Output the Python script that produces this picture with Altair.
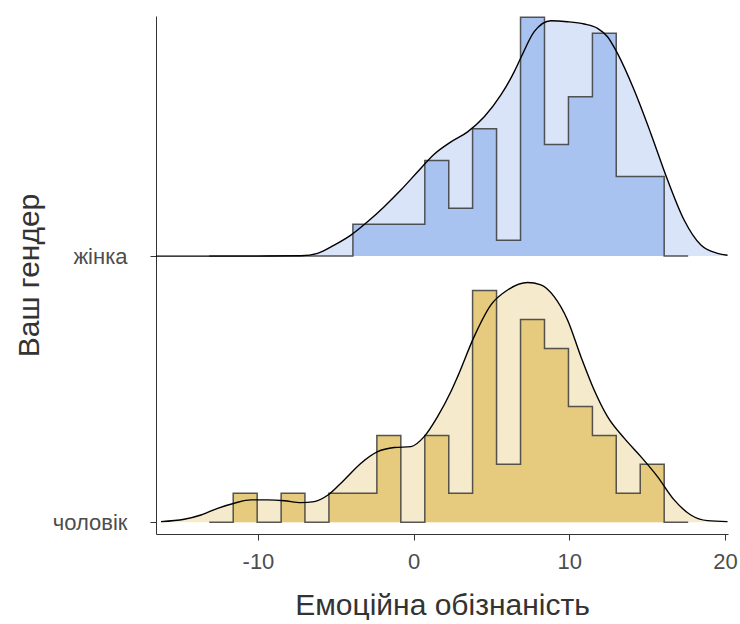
import altair as alt
import pandas as pd

# ---------------- data ----------------
groups = ["жінка", "чоловік"]
baselines = {"жінка": 0.1358, "чоловік": 0.0}

bin_edges = [-13.13, -11.59, -10.05, -8.51, -6.98, -5.44, -3.90, -2.36, -0.82, 0.72,
             2.26, 3.79, 5.33, 6.87, 8.41, 9.95, 11.49, 13.02, 14.56, 16.10, 17.64]
bin_width = 1.5385

counts_f = [0, 0, 0, 0, 0, 0, 2, 2, 2, 6, 3, 8, 1, 15, 7, 10, 14, 5, 5, 0]
counts_m = [0, 1, 0, 1, 0, 1, 1, 3, 0, 3, 1, 8, 2, 7, 6, 4, 3, 1, 2, 0]

dens_f_x = [-16.55, -10.0, -7.24, -6.17, -5.10, -4.03, -2.96, -1.89, -0.82, 0.26, 1.32,
            2.40, 3.47, 4.54, 5.61, 6.46, 6.89, 7.75, 8.82, 9.89, 10.96, 11.82,
            12.46, 13.10, 14.17, 15.24, 16.32, 17.38, 18.46, 19.53, 20.17]
dens_f_y = [0.0, 0.0, 0.0002, 0.0014, 0.0056, 0.0107, 0.0175, 0.0252, 0.0337, 0.0430, 0.0520,
            0.0583, 0.0634, 0.0711, 0.0822, 0.0940, 0.1012, 0.1145, 0.1201, 0.1196, 0.1184, 0.1162,
            0.1119, 0.1034, 0.0847, 0.0626, 0.0388, 0.0184, 0.0056, 0.0014, 0.0004]

dens_m_x = [-16.23, -14.74, -13.66, -12.59, -11.52, -10.45, -9.38, -8.31, -7.24, -6.39,
            -5.50, -4.46, -3.38, -2.31, -1.24, -0.17, 0.68, 1.54, 2.40, 2.83, 3.89,
            4.97, 6.04, 7.32, 8.18, 9.03, 9.89, 10.75, 11.60, 12.46, 13.53, 14.60,
            15.67, 16.74, 17.81, 18.89, 20.17]
dens_m_y = [0.0003, 0.0015, 0.0037, 0.0071, 0.0097, 0.0114, 0.0114, 0.0110, 0.0100, 0.0105,
            0.0139, 0.0216, 0.0301, 0.0360, 0.0381, 0.0386, 0.0437, 0.0539, 0.0667, 0.0743, 0.0947,
            0.1109, 0.1185, 0.1223, 0.1211, 0.1151, 0.1032, 0.0845, 0.0675, 0.0539, 0.0429, 0.0335,
            0.0233, 0.0114, 0.0037, 0.0008, 0.0003]

x_ticks = [-10, 0, 10, 20]
hist_fill = {"жінка": "#a9c3f0", "чоловік": "#e6cb7e"}
dens_fill = {"жінка": "#dae4f8", "чоловік": "#f5ebcc"}

# ---------------- tables ----------------
hist_rows = []
for g, counts in (("жінка", counts_f), ("чоловік", counts_m)):
    n = sum(counts)
    b = baselines[g]
    vals = [c / (n * bin_width) for c in counts] + [0.0]
    for e, v in zip(bin_edges, vals):
        hist_rows.append({"g": g, "x": e, "y": b + v, "base": b})
hist_df = pd.DataFrame(hist_rows)

dens_rows = []
for g, xs, ys in (("жінка", dens_f_x, dens_f_y), ("чоловік", dens_m_x, dens_m_y)):
    b = baselines[g]
    for xv, yv in zip(xs, ys):
        dens_rows.append({"g": g, "x": xv, "y": b + yv, "base": b})
dens_df = pd.DataFrame(dens_rows)

FONT = "Liberation Sans"
xscale = alt.Scale(domain=[-16.55, 20.2], nice=False, zero=False)
yscale = alt.Scale(domain=[-0.006, 0.2583], nice=False, zero=False)

x_enc = alt.X("x:Q", scale=xscale, axis=alt.Axis(
    title="Емоційна обізнаність", values=x_ticks, grid=False,
    labelExpr="replace(format(datum.value, 'd'), '−', '-')",
    domainColor="#333333", tickColor="#333333", tickSize=6,
    labelFontSize=22, labelColor="#4d4d4d", labelPadding=11,
    titleFontSize=30, titleFontWeight="normal", titleColor="#333333",
    titlePadding=18, labelFont=FONT, titleFont=FONT))
y_enc = alt.Y("y:Q", scale=yscale, axis=alt.Axis(
    title="Ваш гендер", values=[0.0, 0.1358], grid=False,
    labelExpr="datum.value > 0.1 ? 'жінка' : 'чоловік'",
    domainColor="#333333", tickColor="#333333", tickSize=6,
    labelFontSize=22, labelColor="#4d4d4d", labelPadding=23,
    titleFontSize=30, titleFontWeight="normal", titleColor="#333333",
    titlePadding=8, labelFont=FONT, titleFont=FONT))

layers = []
for g in ["чоловік", "жінка"]:
    d = dens_df[dens_df.g == g]
    h = hist_df[hist_df.g == g]
    layers.append(alt.Chart(d).mark_area(interpolate="monotone", fill=dens_fill[g],
                                         fillOpacity=1).encode(
        x=x_enc, y=y_enc, y2=alt.Y2("base:Q")))
    layers.append(alt.Chart(h).mark_area(interpolate="step-after", fill=hist_fill[g],
                                         fillOpacity=1).encode(
        x=x_enc, y=y_enc, y2=alt.Y2("base:Q")))
    layers.append(alt.Chart(h).mark_line(interpolate="step-after", color="#3a3a3a",
                                         strokeWidth=1.5, opacity=0.85).encode(
        x=x_enc, y=y_enc))
    layers.append(alt.Chart(d).mark_line(interpolate="monotone", color="#000000",
                                         strokeWidth=1.4).encode(
        x=x_enc, y=y_enc))

chart = alt.layer(*layers).properties(
    width=572, height=518,
    padding={"left": 14, "top": 14, "right": 0, "bottom": 0},
).configure(background="white", view=alt.ViewConfig(stroke=None))

chart.save("out.html", embed_options={"renderer": "svg", "actions": False})
